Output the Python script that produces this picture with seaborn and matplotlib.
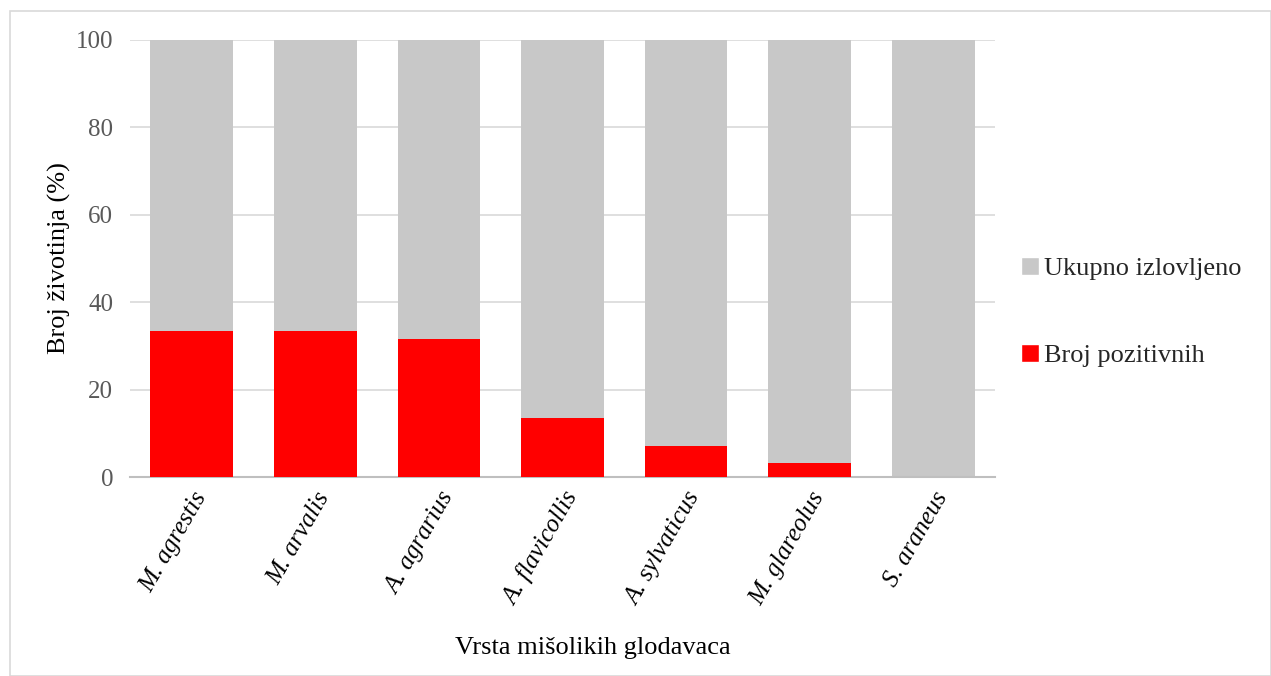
import pandas as pd
import numpy as np
import matplotlib.pyplot as plt
from matplotlib.patches import Patch, Rectangle
import seaborn as sns

# Data
vrste = ['M. agrestis', 'M. arvalis', 'A. agrarius', 'A. flavicollis',
         'A. sylvaticus', 'M. glareolus', 'S. araneus']
ukupno = [100, 100, 100, 100, 100, 100, 100]
pozitivni = [33.3, 33.3, 31.5, 13.6, 7.1, 3.1, 0]

df = pd.DataFrame({'vrsta': vrste, 'ukupno': ukupno, 'pozitivni': pozitivni})

sns.set_theme(style='white')
plt.rcParams['font.family'] = ['Liberation Serif', 'DejaVu Serif']

fig = plt.figure(figsize=(12.71, 6.76), dpi=100)
ax = fig.add_axes([130 / 1271, 1 - 477 / 676, 865 / 1271, 437 / 676])

sns.barplot(data=df, x='vrsta', y='ukupno', color='#c8c8c8', saturation=1,
            width=0.67, linewidth=0, ax=ax, zorder=2)
sns.barplot(data=df, x='vrsta', y='pozitivni', color='#ff0000', saturation=1,
            width=0.67, linewidth=0, ax=ax, zorder=3)

ax.set_xlim(-0.5, 6.5)
ax.set_ylim(0, 100)
ax.set_yticks([0, 20, 40, 60, 80, 100])
ax.yaxis.grid(True, color='#d9d9d9', linewidth=1.2, zorder=0)
ax.set_axisbelow(True)
for s in ['top', 'right', 'left']:
    ax.spines[s].set_visible(False)
ax.spines['bottom'].set_color('#bfbfbf')
ax.spines['bottom'].set_linewidth(1.5)
ax.tick_params(axis='both', length=0, colors='#595959', labelsize=18)
ax.tick_params(axis='y', pad=12)
ax.set_xticks(range(len(vrste)))
ax.set_xticklabels(vrste, rotation=60, ha='right', rotation_mode='anchor',
                   style='italic', color='#000000', fontsize=18)
ax.tick_params(axis='x', pad=8)

ax.set_ylabel('Broj životinja (%)', fontsize=19, color='#000000')
ax.yaxis.set_label_coords(-0.081, 0.5)
ax.set_xlabel('Vrsta mišolikih glodavaca', fontsize=19, color='#000000')
ax.xaxis.set_label_coords(0.535, -0.391)
ax.xaxis.label.set_va('center')
ax.yaxis.label.set_va('center')

handles = [Patch(facecolor='#c8c8c8', label='Ukupno izlovljeno'),
           Patch(facecolor='#ff0000', label='Broj pozitivnih')]
fig.legend(handles=handles, loc='center left', bbox_to_anchor=(997 / 1271, 1 - 312 / 676),
           frameon=False, fontsize=19, handlelength=0.7, handleheight=0.7,
           handletextpad=0.2, labelspacing=2.4)

# light frame around the chart
fig.patches.append(Rectangle((10 / 1271, 0), 1 - 10 / 1271, 1 - 11 / 676,
                             transform=fig.transFigure, fill=False,
                             edgecolor='#d9d9d9', linewidth=1.2))

fig.savefig('out.png', dpi=100)
